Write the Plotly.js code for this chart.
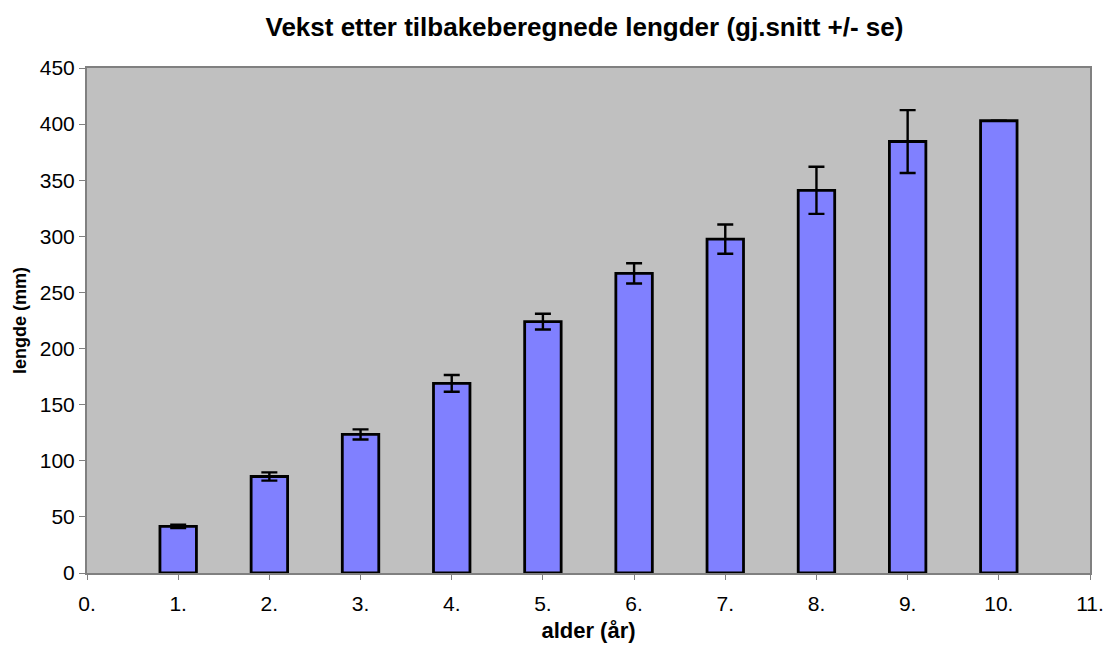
<!DOCTYPE html>
<html>
<head>
<meta charset="utf-8">
<script src="https://cdn.plot.ly/plotly-3.0.1.min.js"></script>
<style>html,body{margin:0;padding:0;background:#fff;}#chart{width:1109px;height:648px;}</style>
</head>
<body>
<div id="chart"></div>
<script>
const ages = [1, 2, 3, 4, 5, 6, 7, 8, 9, 10];
const lengths = [41.5, 86, 123.5, 169, 224, 267, 297.5, 341, 384.5, 403];
const se = [1.5, 3.7, 4.5, 7.5, 7, 9, 13, 21, 28, 0];
const tickVals = [0, 1, 2, 3, 4, 5, 6, 7, 8, 9, 10, 11];
const tickText = ["0.", "1.", "2.", "3.", "4.", "5.", "6.", "7.", "8.", "9.", "10.", "11."];

const trace = {
  type: 'bar',
  x: ages,
  y: lengths,
  width: 0.4,
  marker: {color: '#8080ff', line: {color: '#000000', width: 2.8}},
  error_y: {type: 'data', array: se, visible: true, color: '#000000', thickness: 2.4, width: 8},
  hoverinfo: 'x+y'
};

const layout = {
  width: 1109, height: 648,
  margin: {l: 87, r: 19, t: 68, b: 75},
  paper_bgcolor: '#ffffff',
  plot_bgcolor: '#c0c0c0',
  font: {family: 'Liberation Sans, Arial, sans-serif', color: '#000000'},
  title: {text: '<b>Vekst etter tilbakeberegnede lengder (gj.snitt +/- se)</b>', font: {size: 26, family: 'Liberation Sans, Arial, sans-serif'}, x: 0.527, xanchor: 'center', y: 0.958, yanchor: 'middle'},
  showlegend: false,
  bargap: 0,
  xaxis: {
    range: [0, 11], tickvals: tickVals, ticktext: tickText,
    ticks: 'outside', ticklen: 5, tickcolor: '#808080', tickwidth: 1,
    showgrid: false, zeroline: false,
    showline: true, linecolor: '#808080', linewidth: 2, mirror: true,
    tickfont: {size: 21}, ticklabelstandoff: 6,
    title: {text: '<b>alder (år)</b>', font: {size: 22}, standoff: 8}
  },
  yaxis: {
    range: [0, 450], dtick: 50,
    ticks: 'outside', ticklen: 6, tickcolor: '#808080', tickwidth: 1,
    showgrid: false, zeroline: false,
    showline: true, linecolor: '#808080', linewidth: 2, mirror: true,
    tickfont: {size: 21},
    title: {text: '<b>lengde (mm)</b>', font: {size: 18}, standoff: 8}
  }
};

Plotly.newPlot('chart', [trace], layout, {displayModeBar: false, staticPlot: true});
</script>
</body>
</html>
